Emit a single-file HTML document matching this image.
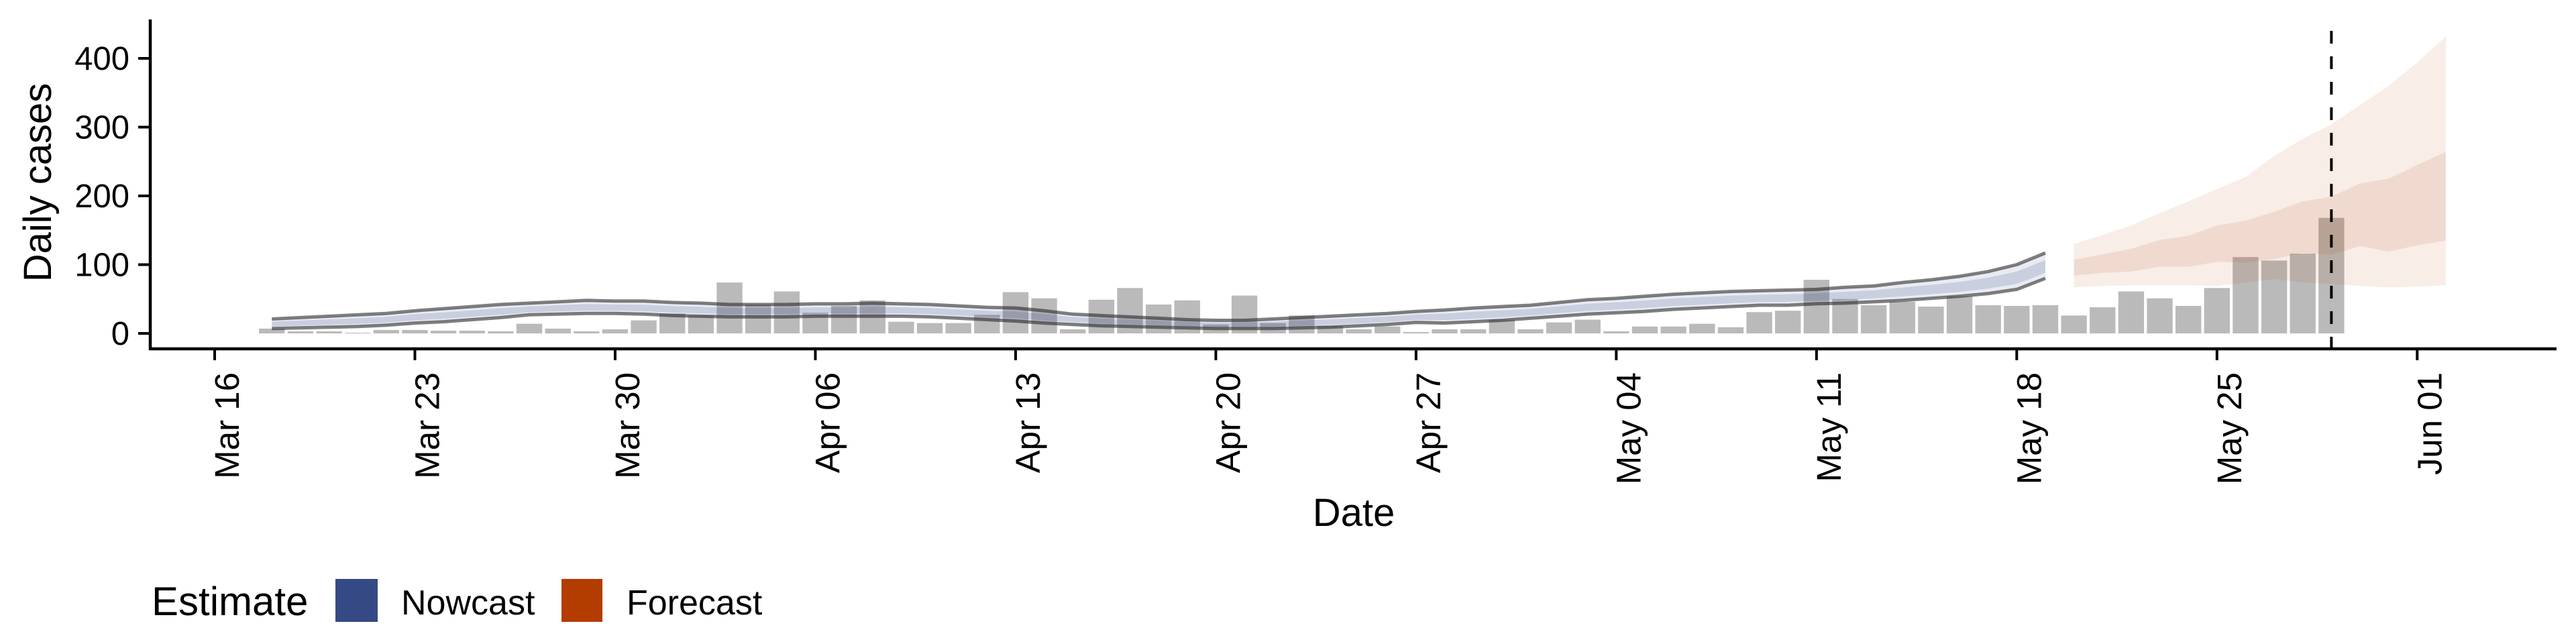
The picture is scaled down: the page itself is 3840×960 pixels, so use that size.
<!DOCTYPE html>
<html><head><meta charset="utf-8"><style>
html,body{margin:0;padding:0;background:#fff;}
svg{display:block;font-family:"Liberation Sans",Arial,sans-serif;}
</style></head><body>
<svg id="chart" width="3840" height="960" viewBox="0 0 3840 960" xmlns="http://www.w3.org/2000/svg">
<g id="plot"></g>
<g id="axes"></g>
<g id="legend">
  <text x="226" y="917" font-size="60">Estimate</text>
  <rect x="500" y="863" width="63" height="64" fill="#354a85"/>
  <text x="598" y="916" font-size="52">Nowcast</text>
  <rect x="837" y="863" width="61" height="64" fill="#b33c00"/>
  <text x="934" y="916" font-size="52">Forecast</text>
</g>
</svg>
<script>
// ---- data ----
const barStart = "2020-03-18";
const caseCounts = [7,3,3,1,5,5,4,4,3,14,7,3,6,19,
  29,26,74,42,61,30,40,48,17,15,15,27,60,51,6,49,66,42,48,13,55,15,26,11,6,10,2,6,6,20,
  6,16,20,3,10,10,14,9,31,33,78,50,41,46,39,54,41,40,41,26,38,61,51,40,66,111,106,116,168];
const nowStart = "2020-03-18";
const nowUpper = [21,23,25,27,29,33,36,39,42,44,46,48,47,47,
  45,44,42,42,42,43,43,44,43,42,40,38,37,33,28,26,24,22,20,19,19,21,23,25,27,29,32,34,37,39,
  41,45,49,51,54,57,59,61,62,63,64,67,69,74,78,83,90,100,117];
const nowLower = [7,8,9,10,12,15,17,20,23,27,28,29,29,28,
  26,25,24,24,24,25,25,25,25,24,22,20,18,15,13,11,10,9,8,7,7,7,8,9,11,13,16,15,17,19,
  22,25,28,30,32,35,37,39,41,41,43,44,46,48,51,54,58,64,80];
const foreStart = "2020-05-20";
const foreOuterUpper = [130,143,157,175,192,210,227,258,283,304,332,360,394,432];
const foreInnerUpper = [107,115,123,136,142,157,164,177,192,199,218,225,245,264];
const foreInnerLower = [84,88,90,97,97,104,103,108,117,114,127,119,128,135];
const foreOuterLower = [67,69,70,70,70,69,74,79,74,72,69,67,68,70];
const xTickDates = ["2020-03-16","2020-03-23","2020-03-30","2020-04-06","2020-04-13","2020-04-20","2020-04-27","2020-05-04","2020-05-11","2020-05-18","2020-05-25","2020-06-01"];
const xTickLabels = ["Mar 16","Mar 23","Mar 30","Apr 06","Apr 13","Apr 20","Apr 27","May 04","May 11","May 18","May 25","Jun 01"];
const yTicks = [0,100,200,300,400];
const forecastDate = "2020-05-29";

// ---- scales ----
const NS = "http://www.w3.org/2000/svg";
const DAY = 86400000;
const x0 = Date.parse("2020-03-16T00:00:00Z");
function dayIdx(d){return (Date.parse(d+"T00:00:00Z")-x0)/DAY;}
const pxPerDay = 42.64;
function X(i){return 320 + i*pxPerDay;}
function Y(v){return 497 - v*1.025;}
function mk(tag, attrs, parent){
  const e = document.createElementNS(NS, tag);
  for (const k in attrs) e.setAttribute(k, attrs[k]);
  parent.appendChild(e); return e;
}
const plot = document.getElementById('plot');
const axes = document.getElementById('axes');

// bars
const b0 = dayIdx(barStart);
caseCounts.forEach((v,i)=>{
  const cx = X(b0+i), w = pxPerDay*0.9;
  const r = mk('rect',{x:cx-w/2,y:Y(v),width:w,height:Y(0)-Y(v),fill:'#bababa'},plot);
  
  
});

function band(start, up, lo, fill, op, name){
  const s = dayIdx(start);
  let d = "";
  up.forEach((v,i)=>{d += (i?"L":"M")+X(s+i).toFixed(1)+","+Y(v).toFixed(1);});
  for (let i=lo.length-1;i>=0;i--) d += "L"+X(s+i).toFixed(1)+","+Y(lo[i]).toFixed(1);
  d += "Z";
  const p = mk('path',{d:d,fill:fill,'fill-opacity':op},plot);
  
  
  return p;
}
function line(start, vals, name){
  const s = dayIdx(start);
  let d = "";
  vals.forEach((v,i)=>{d += (i?"L":"M")+X(s+i).toFixed(1)+","+Y(v).toFixed(1);});
  const p = mk('path',{d:d,fill:'none',stroke:'#2a2a2a','stroke-opacity':0.6,'stroke-width':5,'stroke-linejoin':'round'},plot);
  
  
}
// nowcast
band(nowStart, nowUpper, nowLower, '#354a85', 0.11, 'nowcast-band-90');
const inU = nowUpper.map((u,i)=>nowLower[i]+(u-nowLower[i])*0.72);
const inL = nowUpper.map((u,i)=>nowLower[i]+(u-nowLower[i])*0.22);
band(nowStart, inU, inL, '#354a85', 0.17, 'nowcast-band-50');
line(nowStart, nowUpper, 'nowcast-upper-line');
line(nowStart, nowLower, 'nowcast-lower-line');
// forecast
band(foreStart, foreOuterUpper, foreOuterLower, '#b33c00', 0.095, 'forecast-band-90');
band(foreStart, foreInnerUpper, foreInnerLower, '#b33c00', 0.1, 'forecast-band-50');

// dashed line
const fx = X(dayIdx(forecastDate));
const dl = mk('line',{x1:fx,x2:fx,y1:46,y2:520,stroke:'#000','stroke-width':4,'stroke-dasharray':'19,19'},plot);



// axes
const ya = mk('line',{x1:224,x2:224,y1:29,y2:522,stroke:'#000','stroke-width':4.5},axes);


const xa = mk('line',{x1:222,x2:3811,y1:520,y2:520,stroke:'#000','stroke-width':4.5},axes);


yTicks.forEach(v=>{
  const t = mk('line',{x1:206,x2:224,y1:Y(v),y2:Y(v),stroke:'#000','stroke-width':4},axes);
  
  
  const l = mk('text',{x:193,y:Y(v)+17,'font-size':49,'text-anchor':'end'},axes);
  l.textContent = v;
  
  
});
xTickDates.forEach((d,i)=>{
  const x = X(dayIdx(d));
  const t = mk('line',{x1:x,x2:x,y1:520,y2:537,stroke:'#000','stroke-width':4},axes);
  
  
  const l = mk('text',{x:0,y:0,'font-size':51,'text-anchor':'end',transform:`translate(${x+36},555) rotate(-90)`},axes);
  l.textContent = xTickLabels[i];
  
  
});
const xt = mk('text',{x:2018,y:784,'font-size':58,'text-anchor':'middle'},axes);
xt.textContent = "Date";


const yt = mk('text',{x:0,y:0,'font-size':58,'text-anchor':'middle',transform:'translate(76,272) rotate(-90)'},axes);
yt.textContent = "Daily cases";


</script>
</body></html>
